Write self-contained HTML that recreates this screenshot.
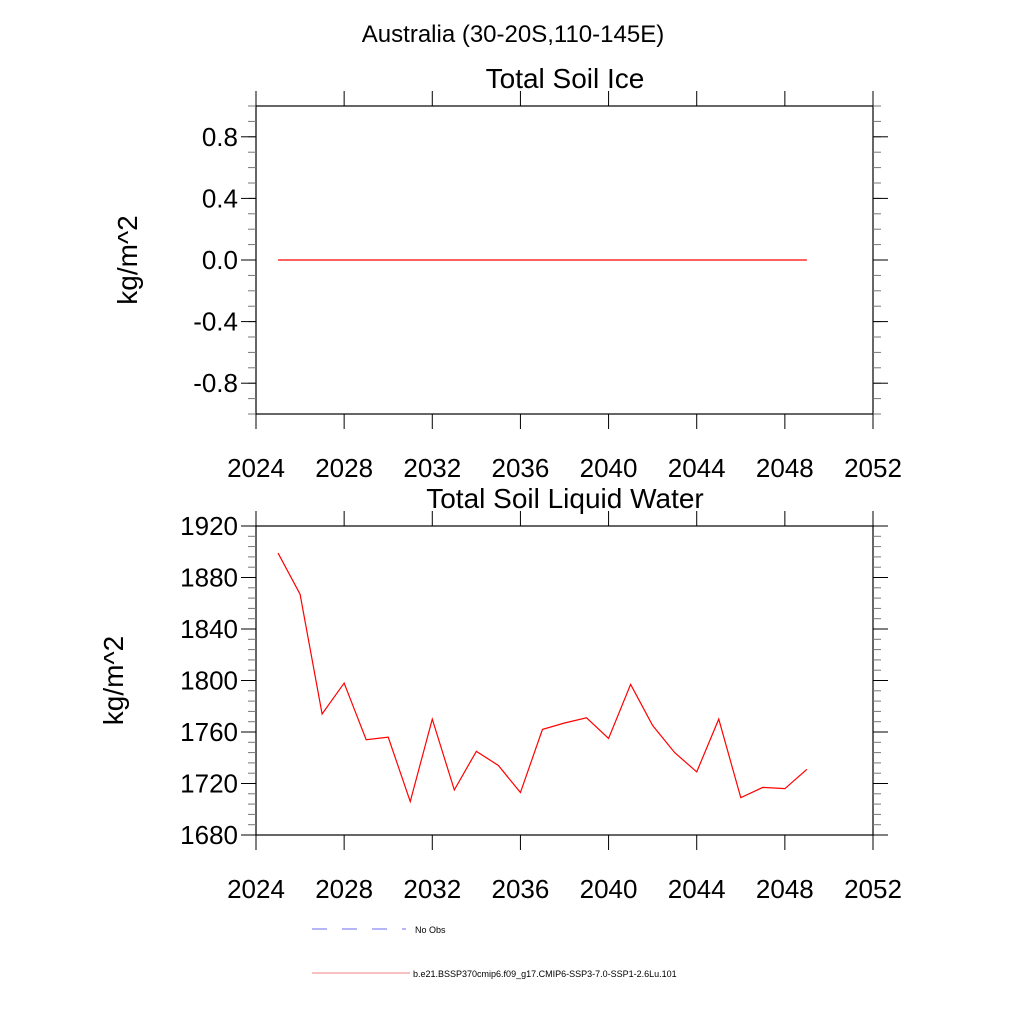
<!DOCTYPE html>
<html><head><meta charset="utf-8"><style>
body{margin:0;background:#fff}
svg{display:block;font-family:"Liberation Sans",sans-serif}
</style></head><body>
<svg id="chart" width="1024" height="1024" viewBox="0 0 1024 1024">
<text x="513" y="42" font-size="24" text-anchor="middle">Australia (30-20S,110-145E)</text>
<g id="p1"></g>
<g id="p2"></g>
<g>
<line x1="312" y1="929" x2="406" y2="929" stroke="#6b6bf0" stroke-width="1" stroke-dasharray="15,15"/>
<text x="415" y="933" font-size="9">No Obs</text>
<line x1="312" y1="973" x2="410" y2="973" stroke="#f08080" stroke-width="1"/>
<text x="413" y="977" font-size="9">b.e21.BSSP370cmip6.f09_g17.CMIP6-SSP3-7.0-SSP1-2.6Lu.101</text>
</g>
</svg>
<script>
const years=[2025,2026,2027,2028,2029,2030,2031,2032,2033,2034,2035,2036,2037,2038,2039,2040,2041,2042,2043,2044,2045,2046,2047,2048,2049];
const iceValues=[0,0,0,0,0,0,0,0,0,0,0,0,0,0,0,0,0,0,0,0,0,0,0,0,0];
const liquidValues=[1899,1867,1774,1798,1754,1756,1706,1770,1715,1745,1734,1713,1762,1767,1771,1755,1797,1765,1744,1729,1770,1709,1717,1716,1731];
const xTicks=[2024,2028,2032,2036,2040,2044,2048,2052];
const iceTicks=[-0.8,-0.4,0.0,0.4,0.8];
const liquidTicks=[1680,1720,1760,1800,1840,1880,1920];
const NS="http://www.w3.org/2000/svg";
function mk(p,t,a){const e=document.createElementNS(NS,t);for(const k in a)e.setAttribute(k,a[k]);p.appendChild(e);return e;}
function panel(g,top,bot,ymin,ymax,yticks,minorStep,dec,vals,title,ylab,ylx){
  const L=256,R=873;
  const X=v=>L+(v-2024)/(2052-2024)*(R-L);
  const Y=v=>bot-(v-ymin)/(ymax-ymin)*(bot-top);
  const fr=mk(g,'rect',{x:L,y:top,width:R-L,height:bot-top,fill:'none',stroke:'#000','stroke-width':1.2});
  
  
  for(let v=ymin;v<=ymax+1e-9;v+=minorStep){
    const y=Y(v);
    mk(g,'line',{x1:L-8,y1:y,x2:L,y2:y,stroke:'#777'});
    mk(g,'line',{x1:R,y1:y,x2:R+8,y2:y,stroke:'#777'});
  }
  yticks.forEach(v=>{
    const y=Y(v);
    mk(g,'line',{x1:L-15,y1:y,x2:L,y2:y,stroke:'#000'});
    mk(g,'line',{x1:R,y1:y,x2:R+15,y2:y,stroke:'#000'});
    const t=mk(g,'text',{x:L-18,y:y+9,'font-size':26,'text-anchor':'end'});
    t.textContent=v.toFixed(dec);
    
    
  });
  xTicks.forEach(v=>{
    const x=X(v);
    mk(g,'line',{x1:x,y1:top-15,x2:x,y2:top,stroke:'#000'});
    mk(g,'line',{x1:x,y1:bot,x2:x,y2:bot+15,stroke:'#000'});
    const t=mk(g,'text',{x:x,y:bot+63,'font-size':26,'text-anchor':'middle'});
    t.textContent=v;
    
    
  });
  const tt=mk(g,'text',{x:565,y:top-18,'font-size':28,'text-anchor':'middle'});
  tt.textContent=title;
  
  
  const cy=(top+bot)/2;
  const yl=mk(g,'text',{x:ylx,y:cy,'font-size':28,'text-anchor':'middle',transform:`rotate(-90 ${ylx} ${cy})`});
  yl.textContent=ylab;
  
  
  const pts=years.map((yr,i)=>X(yr)+','+Y(vals[i])).join(' ');
  const pl=mk(g,'polyline',{points:pts,fill:'none',stroke:'#f00','stroke-width':1.2});
  
  
}
panel(document.getElementById('p1'),106,414,-1,1,iceTicks,0.1,1,iceValues,'Total Soil Ice','kg/m^2',137);
panel(document.getElementById('p2'),526,835,1680,1920,liquidTicks,8,0,liquidValues,'Total Soil Liquid Water','kg/m^2',123);
</script>
</body></html>
